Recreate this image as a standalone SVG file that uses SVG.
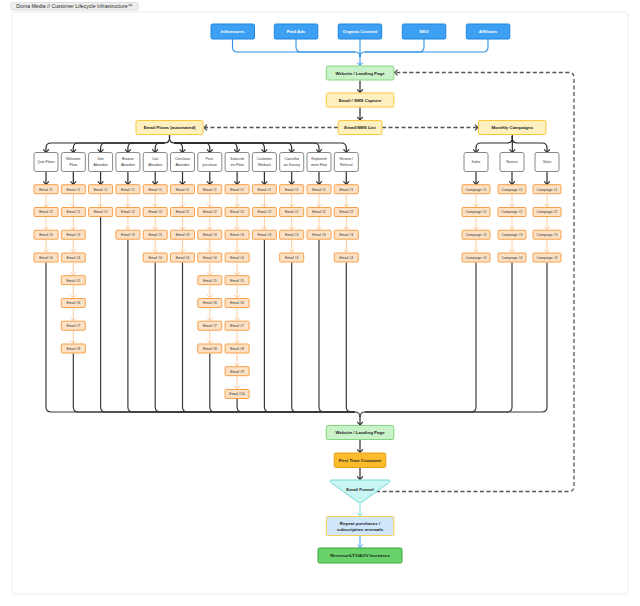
<svg xmlns="http://www.w3.org/2000/svg" width="640" height="606" viewBox="0 0 640 606">
<style>
text{font-family:"Liberation Sans",Arial,sans-serif;text-anchor:middle}
.main text{font-size:4.4px;font-weight:bold;fill:#1c1c1c}
.src rect{fill:#3ea0f2;stroke:#1d84de;stroke-width:1}
.src text{font-size:4.4px;font-weight:bold;fill:#fff}
.grn rect{fill:#caf2c8;stroke:#82d77e;stroke-width:1}
.yel rect{fill:#fff0bf;stroke:#fbc83c;stroke-width:1}
.ftc rect{fill:#fbbb2c;stroke:#e6a219;stroke-width:1}
.rep rect{fill:#cfe6fb;stroke:#f8cf52;stroke-width:1}
.rev rect{fill:#6ad26a;stroke:#3aa53a;stroke-width:1}
.fun path{fill:#c9f5f2;stroke:#70dbd5;stroke-width:1}
.flow rect{fill:#fff;stroke:#6a6a6a;stroke-width:0.8}
.flow text{font-size:3.5px;fill:#333}
.em rect{fill:#fde1c4;stroke:#f8a04a;stroke-width:1}
.em text{font-size:3.5px;fill:#333}
.blk{fill:none;stroke:#2a2a2a;stroke-width:1.2}
.mrg{fill:none;stroke:#3a3a3a;stroke-width:1.2}
.pale{fill:none;stroke:#fccca0;stroke-width:1}
.blu{fill:none;stroke:#2f8fe6;stroke-width:1.1}
.dash{fill:none;stroke:#555;stroke-width:1.3;stroke-dasharray:4 2.5}
</style>
<defs>
<marker id="ab" viewBox="0 0 4 7" refX="3.6" refY="3.5" markerWidth="4" markerHeight="7" markerUnits="userSpaceOnUse" orient="auto"><path d="M0.5,0.6 L3.5,3.5 L0.5,6.4" fill="none" stroke="#2a2a2a" stroke-width="1.1"/></marker>
<marker id="ap" viewBox="0 0 4 7" refX="3.6" refY="3.5" markerWidth="4" markerHeight="7" markerUnits="userSpaceOnUse" orient="auto"><path d="M0.5,0.6 L3.5,3.5 L0.5,6.4" fill="none" stroke="#fccca0" stroke-width="1"/></marker>
<marker id="abl" viewBox="0 0 4 7" refX="3.6" refY="3.5" markerWidth="4" markerHeight="7" markerUnits="userSpaceOnUse" orient="auto"><path d="M0.5,0.6 L3.5,3.5 L0.5,6.4" fill="none" stroke="#2f8fe6" stroke-width="1"/></marker>
<marker id="acy" viewBox="0 0 4 7" refX="3.6" refY="3.5" markerWidth="4" markerHeight="7" markerUnits="userSpaceOnUse" orient="auto"><path d="M0.5,0.6 L3.5,3.5 L0.5,6.4" fill="none" stroke="#7fdcd7" stroke-width="1"/></marker>
<marker id="ab2" viewBox="0 0 4 7" refX="3.6" refY="3.5" markerWidth="4" markerHeight="7" markerUnits="userSpaceOnUse" orient="auto"><path d="M0.5,0.6 L3.5,3.5 L0.5,6.4" fill="none" stroke="#4aa6f0" stroke-width="1"/></marker>
<marker id="ad" viewBox="0 0 4 7" refX="3.6" refY="3.5" markerWidth="4" markerHeight="7" markerUnits="userSpaceOnUse" orient="auto"><path d="M0.5,0.6 L3.5,3.5 L0.5,6.4" fill="none" stroke="#444" stroke-width="1.1"/></marker>
</defs>

<g id="title"><rect x="11" y="2.5" width="127" height="7.5" rx="1.5" fill="#eeeeee" stroke="#cfcfcf" stroke-width="0.6"/><text x="74.5" y="8.1" style="font-size:5.2px;fill:#2a2a2a">Doma Media // Customer Lifecycle Infrastructure™</text></g>
<rect id="frame" x="12" y="12" width="616" height="582" rx="4" fill="#fff" stroke="#e6e6e6" stroke-width="0.8"/>

<g id="connectors">
<path class="blu" d="M232.5 39 V47 Q232.5 52 237.5 52 H355 Q360 52 360 57"/>
<path class="blu" d="M296 39 V47 Q296 52 301 52 H355"/>
<path class="blu" d="M424 39 V47 Q424 52 419 52 H365 Q360 52 360 57"/>
<path class="blu" d="M488 39 V47 Q488 52 483 52 H365"/>
<path class="blu" d="M360 39 V65.5" marker-end="url(#abl)"/>
<path class="blk" d="M360 80.5 V92.5" marker-end="url(#ab)"/>
<path class="blk" d="M360 107.5 V120" marker-end="url(#ab)"/>
<path class="dash" d="M338 127.5 H204" marker-end="url(#ad)"/>
<path class="dash" d="M382 127.5 H478" marker-end="url(#ad)"/>
<path class="dash" d="M376 491.5 H569 Q574 491.5 574 486.5 V77.5 Q574 72.5 569 72.5 H394.5" marker-end="url(#ad)"/>
<!-- email flows branch -->
<path class="blk" d="M169.5 135 V138 Q169.5 143 164.5 143 H51 Q46 143 46 148 V152.5" marker-end="url(#ab)"/>
<path class="blk" d="M164.5 143 H78.3 Q73.3 143 73.3 148 V152.5" marker-end="url(#ab)"/>
<path class="blk" d="M164.5 143 H105.6 Q100.6 143 100.6 148 V152.5" marker-end="url(#ab)"/>
<path class="blk" d="M164.5 143 H132.9 Q127.9 143 127.9 148 V152.5" marker-end="url(#ab)"/>
<path class="blk" d="M164.5 143 H160.2 Q155.2 143 155.2 148 V152.5" marker-end="url(#ab)"/>
<path class="blk" d="M169.5 135 V138 Q169.5 143 174.5 143 H177.5 Q182.5 143 182.5 148 V152.5" marker-end="url(#ab)"/>
<path class="blk" d="M174.5 143 H204.8 Q209.8 143 209.8 148 V152.5" marker-end="url(#ab)"/>
<path class="blk" d="M174.5 143 H232.1 Q237.1 143 237.1 148 V152.5" marker-end="url(#ab)"/>
<path class="blk" d="M174.5 143 H259.4 Q264.4 143 264.4 148 V152.5" marker-end="url(#ab)"/>
<path class="blk" d="M174.5 143 H286.7 Q291.7 143 291.7 148 V152.5" marker-end="url(#ab)"/>
<path class="blk" d="M174.5 143 H314 Q319 143 319 148 V152.5" marker-end="url(#ab)"/>
<path class="blk" d="M174.5 143 H341.3 Q346.3 143 346.3 148 V152.5" marker-end="url(#ab)"/>
<!-- campaigns branch -->
<path class="blk" d="M512.3 134.5 V152.5" marker-end="url(#ab)"/>
<path class="blk" d="M512.3 136 V138 Q512.3 143 507.3 143 H481 Q476 143 476 148 V152.5" marker-end="url(#ab)"/>
<path class="blk" d="M512.3 136 V138 Q512.3 143 517.3 143 H542 Q547 143 547 148 V152.5" marker-end="url(#ab)"/>
<!-- flow box to email 1 -->
<path class="blk" d="M46 171.5 V184.5" marker-end="url(#ab)"/>
<path class="blk" d="M73.3 171.5 V184.5" marker-end="url(#ab)"/>
<path class="blk" d="M100.6 171.5 V184.5" marker-end="url(#ab)"/>
<path class="blk" d="M127.9 171.5 V184.5" marker-end="url(#ab)"/>
<path class="blk" d="M155.2 171.5 V184.5" marker-end="url(#ab)"/>
<path class="blk" d="M182.5 171.5 V184.5" marker-end="url(#ab)"/>
<path class="blk" d="M209.8 171.5 V184.5" marker-end="url(#ab)"/>
<path class="blk" d="M237.1 171.5 V184.5" marker-end="url(#ab)"/>
<path class="blk" d="M264.4 171.5 V184.5" marker-end="url(#ab)"/>
<path class="blk" d="M291.7 171.5 V184.5" marker-end="url(#ab)"/>
<path class="blk" d="M319 171.5 V184.5" marker-end="url(#ab)"/>
<path class="blk" d="M346.3 171.5 V184.5" marker-end="url(#ab)"/>
<path class="blk" d="M476 171.5 V184.5" marker-end="url(#ab)"/>
<path class="blk" d="M512 171.5 V184.5" marker-end="url(#ab)"/>
<path class="blk" d="M547 171.5 V184.5" marker-end="url(#ab)"/>
<!-- pale arrows -->
<g class="pale" marker-end="url(#ap)">
<path d="M46 194.2 V207"/><path d="M46 216.9 V229.7"/><path d="M46 239.7 V252.5"/>
<path d="M73.3 194.2 V207"/><path d="M73.3 216.9 V229.7"/><path d="M73.3 239.7 V252.5"/><path d="M73.3 262.4 V275.2"/><path d="M73.3 285.2 V298"/><path d="M73.3 307.9 V320.7"/><path d="M73.3 330.7 V343.5"/>
<path d="M100.6 194.2 V207"/>
<path d="M127.9 194.2 V207"/><path d="M127.9 216.9 V229.7"/>
<path d="M155.2 194.2 V207"/><path d="M155.2 216.9 V229.7"/><path d="M155.2 239.7 V252.5"/>
<path d="M182.5 194.2 V207"/><path d="M182.5 216.9 V229.7"/><path d="M182.5 239.7 V252.5"/>
<path d="M209.8 194.2 V207"/><path d="M209.8 216.9 V229.7"/><path d="M209.8 239.7 V252.5"/><path d="M209.8 262.4 V275.2"/><path d="M209.8 285.2 V298"/><path d="M209.8 307.9 V320.7"/><path d="M209.8 330.7 V343.5"/>
<path d="M237.1 194.2 V207"/><path d="M237.1 216.9 V229.7"/><path d="M237.1 239.7 V252.5"/><path d="M237.1 262.4 V275.2"/><path d="M237.1 285.2 V298"/><path d="M237.1 307.9 V320.7"/><path d="M237.1 330.7 V343.5"/><path d="M237.1 353.4 V366.2"/><path d="M237.1 376.2 V389"/>
<path d="M264.4 194.2 V207"/><path d="M264.4 216.9 V229.7"/>
<path d="M291.7 194.2 V207"/><path d="M291.7 216.9 V229.7"/><path d="M291.7 239.7 V252.5"/>
<path d="M319 194.2 V207"/><path d="M319 216.9 V229.7"/>
<path d="M346.3 194.2 V207"/><path d="M346.3 216.9 V229.7"/><path d="M346.3 239.7 V252.5"/>
<path d="M476 194.2 V207"/><path d="M476 216.9 V229.7"/><path d="M476 239.7 V252.5"/>
<path d="M512 194.2 V207"/><path d="M512 216.9 V229.7"/><path d="M512 239.7 V252.5"/>
<path d="M547 194.2 V207"/><path d="M547 216.9 V229.7"/><path d="M547 239.7 V252.5"/>
</g>
<!-- merge lines -->
<path class="mrg" d="M46 262.5 V407 Q46 412 51 412 H355 Q360 412 360 417"/>
<path class="mrg" d="M73.3 353.5 V407 Q73.3 412 78.3 412 H355"/>
<path class="mrg" d="M100.6 217 V407 Q100.6 412 105.6 412 H355"/>
<path class="mrg" d="M127.9 239.7 V407 Q127.9 412 132.9 412 H355"/>
<path class="mrg" d="M155.2 262.5 V407 Q155.2 412 160.2 412 H355"/>
<path class="mrg" d="M182.5 262.5 V407 Q182.5 412 187.5 412 H355"/>
<path class="mrg" d="M209.8 353.5 V407 Q209.8 412 214.8 412 H355"/>
<path class="mrg" d="M237.1 399 V407 Q237.1 412 242.1 412 H355"/>
<path class="mrg" d="M264.4 239.7 V407 Q264.4 412 269.4 412 H355"/>
<path class="mrg" d="M291.7 262.5 V407 Q291.7 412 296.7 412 H355"/>
<path class="mrg" d="M319 239.7 V407 Q319 412 324 412 H355"/>
<path class="mrg" d="M346.3 262.5 V407 Q346.3 412 351.3 412 H355"/>
<path class="mrg" d="M476 262.5 V407 Q476 412 471 412 H365 Q360 412 360 417"/>
<path class="mrg" d="M512 262.5 V407 Q512 412 507 412 H365"/>
<path class="mrg" d="M547 262.5 V407 Q547 412 542 412 H365"/>
<path class="blk" d="M360 416 V425" marker-end="url(#ab)"/>
<path class="blk" d="M360 440 V452.5" marker-end="url(#ab)"/>
<path class="blk" d="M360 467.5 V479.5" marker-end="url(#ab)"/>
<path fill="none" stroke="#7fdcd7" stroke-width="1.1" d="M360 504 V516" marker-end="url(#acy)"/>
<path fill="none" stroke="#4aa6f0" stroke-width="1.1" d="M360 536 V547.5" marker-end="url(#ab2)"/>
</g>

<g id="influencers" class="src"><rect x="211" y="24" width="43.5" height="15" rx="1.5"/><text x="232.5" y="33">Influencers</text></g>
<g id="paid-ads" class="src"><rect x="274.3" y="24" width="43.5" height="15" rx="1.5"/><text x="296" y="33">Paid Ads</text></g>
<g id="organic-content" class="src"><rect x="338.2" y="24" width="43.5" height="15" rx="1.5"/><text x="360" y="33">Organic Content</text></g>
<g id="seo" class="src"><rect x="402.3" y="24" width="43.5" height="15" rx="1.5"/><text x="424" y="33">SEO</text></g>
<g id="affiliates" class="src"><rect x="466.3" y="24" width="43.5" height="15" rx="1.5"/><text x="488" y="33">Affiliates</text></g>

<g id="website-1" class="main grn"><rect x="326.3" y="66" width="67.5" height="14" rx="1.5"/><text x="360" y="74.6">Website / Landing Page</text></g>
<g id="capture" class="main yel"><rect x="326.3" y="93" width="67.5" height="14" rx="1.5"/><text x="360" y="101.6">Email / SMS Capture</text></g>
<g id="list" class="main yel"><rect x="338.2" y="120.5" width="43.8" height="14" rx="1.5"/><text x="360" y="129.1">Email/SMS List</text></g>
<g id="email-flows" class="main yel"><rect x="136" y="120.5" width="67" height="14" rx="1.5"/><text x="169.5" y="129.1">Email Flows (automated)</text></g>
<g id="monthly-campaigns" class="main yel"><rect x="478.5" y="120.5" width="67.5" height="14" rx="1.5"/><text x="512.3" y="129.1">Monthly Campaigns</text></g>

<g id="f-quiz" class="flow"><rect x="34" y="152.5" width="24" height="19" rx="2"/><text x="46" y="163">Quiz Flows</text></g>
<g id="f-welcome" class="flow"><rect x="61.3" y="152.5" width="24" height="19" rx="2"/><text x="73.3" y="160.3">Welcome</text><text x="73.3" y="165.6">Flow</text></g>
<g id="f-site" class="flow"><rect x="88.6" y="152.5" width="24" height="19" rx="2"/><text x="100.6" y="160.3">Site</text><text x="100.6" y="165.6">Abandon</text></g>
<g id="f-browse" class="flow"><rect x="115.9" y="152.5" width="24" height="19" rx="2"/><text x="127.9" y="160.3">Browse</text><text x="127.9" y="165.6">Abandon</text></g>
<g id="f-cart" class="flow"><rect x="143.2" y="152.5" width="24" height="19" rx="2"/><text x="155.2" y="160.3">Cart</text><text x="155.2" y="165.6">Abandon</text></g>
<g id="f-checkout" class="flow"><rect x="170.5" y="152.5" width="24" height="19" rx="2"/><text x="182.5" y="160.3">Checkout</text><text x="182.5" y="165.6">Abandon</text></g>
<g id="f-post" class="flow"><rect x="197.8" y="152.5" width="24" height="19" rx="2"/><text x="209.8" y="160.3">Post-</text><text x="209.8" y="165.6">purchase</text></g>
<g id="f-subs" class="flow"><rect x="225.1" y="152.5" width="24" height="19" rx="2"/><text x="237.1" y="160.3">Subscrib</text><text x="237.1" y="165.6">ers Flow</text></g>
<g id="f-winback" class="flow"><rect x="252.4" y="152.5" width="24" height="19" rx="2"/><text x="264.4" y="160.3">Customer</text><text x="264.4" y="165.6">Winback</text></g>
<g id="f-cancel" class="flow"><rect x="279.7" y="152.5" width="24" height="19" rx="2"/><text x="291.7" y="160.3">Cancellat</text><text x="291.7" y="165.6">ion Survey</text></g>
<g id="f-replenish" class="flow"><rect x="307" y="152.5" width="24" height="19" rx="2"/><text x="319" y="160.3">Replenish</text><text x="319" y="165.6">ment Flow</text></g>
<g id="f-review" class="flow"><rect x="334.3" y="152.5" width="24" height="19" rx="2"/><text x="346.3" y="160.3">Review /</text><text x="346.3" y="165.6">Referral</text></g>
<g id="f-sales" class="flow"><rect x="464" y="152.5" width="24" height="19" rx="2"/><text x="476" y="163">Sales</text></g>
<g id="f-nurture" class="flow"><rect x="500" y="152.5" width="24" height="19" rx="2"/><text x="512" y="163">Nurture</text></g>
<g id="f-value" class="flow"><rect x="535" y="152.5" width="24" height="19" rx="2"/><text x="547" y="163">Value</text></g>

<!-- Quiz -->
<g id="quiz-1" class="em"><rect x="34" y="184.7" width="24" height="9" rx="1"/><text x="46" y="190.6">Email #1</text></g>
<g id="quiz-2" class="em"><rect x="34" y="207.5" width="24" height="9" rx="1"/><text x="46" y="213.4">Email #2</text></g>
<g id="quiz-3" class="em"><rect x="34" y="230.2" width="24" height="9" rx="1"/><text x="46" y="236.1">Email #3</text></g>
<g id="quiz-4" class="em"><rect x="34" y="253" width="24" height="9" rx="1"/><text x="46" y="258.9">Email #4</text></g>
<!-- Welcome -->
<g id="welcome-1" class="em"><rect x="61.3" y="184.7" width="24" height="9" rx="1"/><text x="73.3" y="190.6">Email #1</text></g>
<g id="welcome-2" class="em"><rect x="61.3" y="207.5" width="24" height="9" rx="1"/><text x="73.3" y="213.4">Email #2</text></g>
<g id="welcome-3" class="em"><rect x="61.3" y="230.2" width="24" height="9" rx="1"/><text x="73.3" y="236.1">Email #3</text></g>
<g id="welcome-4" class="em"><rect x="61.3" y="253" width="24" height="9" rx="1"/><text x="73.3" y="258.9">Email #4</text></g>
<g id="welcome-5" class="em"><rect x="61.3" y="275.7" width="24" height="9" rx="1"/><text x="73.3" y="281.6">Email #5</text></g>
<g id="welcome-6" class="em"><rect x="61.3" y="298.5" width="24" height="9" rx="1"/><text x="73.3" y="304.4">Email #6</text></g>
<g id="welcome-7" class="em"><rect x="61.3" y="321.2" width="24" height="9" rx="1"/><text x="73.3" y="327.1">Email #7</text></g>
<g id="welcome-8" class="em"><rect x="61.3" y="344" width="24" height="9" rx="1"/><text x="73.3" y="349.9">Email #8</text></g>
<!-- Site -->
<g id="site-1" class="em"><rect x="88.6" y="184.7" width="24" height="9" rx="1"/><text x="100.6" y="190.6">Email #1</text></g>
<g id="site-2" class="em"><rect x="88.6" y="207.5" width="24" height="9" rx="1"/><text x="100.6" y="213.4">Email #2</text></g>
<!-- Browse -->
<g id="browse-1" class="em"><rect x="115.9" y="184.7" width="24" height="9" rx="1"/><text x="127.9" y="190.6">Email #1</text></g>
<g id="browse-2" class="em"><rect x="115.9" y="207.5" width="24" height="9" rx="1"/><text x="127.9" y="213.4">Email #2</text></g>
<g id="browse-3" class="em"><rect x="115.9" y="230.2" width="24" height="9" rx="1"/><text x="127.9" y="236.1">Email #3</text></g>
<!-- Cart -->
<g id="cart-1" class="em"><rect x="143.2" y="184.7" width="24" height="9" rx="1"/><text x="155.2" y="190.6">Email #1</text></g>
<g id="cart-2" class="em"><rect x="143.2" y="207.5" width="24" height="9" rx="1"/><text x="155.2" y="213.4">Email #2</text></g>
<g id="cart-3" class="em"><rect x="143.2" y="230.2" width="24" height="9" rx="1"/><text x="155.2" y="236.1">Email #3</text></g>
<g id="cart-4" class="em"><rect x="143.2" y="253" width="24" height="9" rx="1"/><text x="155.2" y="258.9">Email #4</text></g>
<!-- Checkout -->
<g id="checkout-1" class="em"><rect x="170.5" y="184.7" width="24" height="9" rx="1"/><text x="182.5" y="190.6">Email #1</text></g>
<g id="checkout-2" class="em"><rect x="170.5" y="207.5" width="24" height="9" rx="1"/><text x="182.5" y="213.4">Email #2</text></g>
<g id="checkout-3" class="em"><rect x="170.5" y="230.2" width="24" height="9" rx="1"/><text x="182.5" y="236.1">Email #3</text></g>
<g id="checkout-4" class="em"><rect x="170.5" y="253" width="24" height="9" rx="1"/><text x="182.5" y="258.9">Email #4</text></g>
<!-- Post-purchase -->
<g id="post-1" class="em"><rect x="197.8" y="184.7" width="24" height="9" rx="1"/><text x="209.8" y="190.6">Email #1</text></g>
<g id="post-2" class="em"><rect x="197.8" y="207.5" width="24" height="9" rx="1"/><text x="209.8" y="213.4">Email #2</text></g>
<g id="post-3" class="em"><rect x="197.8" y="230.2" width="24" height="9" rx="1"/><text x="209.8" y="236.1">Email #3</text></g>
<g id="post-4" class="em"><rect x="197.8" y="253" width="24" height="9" rx="1"/><text x="209.8" y="258.9">Email #4</text></g>
<g id="post-5" class="em"><rect x="197.8" y="275.7" width="24" height="9" rx="1"/><text x="209.8" y="281.6">Email #5</text></g>
<g id="post-6" class="em"><rect x="197.8" y="298.5" width="24" height="9" rx="1"/><text x="209.8" y="304.4">Email #6</text></g>
<g id="post-7" class="em"><rect x="197.8" y="321.2" width="24" height="9" rx="1"/><text x="209.8" y="327.1">Email #7</text></g>
<g id="post-8" class="em"><rect x="197.8" y="344" width="24" height="9" rx="1"/><text x="209.8" y="349.9">Email #8</text></g>
<!-- Subscribers -->
<g id="subs-1" class="em"><rect x="225.1" y="184.7" width="24" height="9" rx="1"/><text x="237.1" y="190.6">Email #1</text></g>
<g id="subs-2" class="em"><rect x="225.1" y="207.5" width="24" height="9" rx="1"/><text x="237.1" y="213.4">Email #2</text></g>
<g id="subs-3" class="em"><rect x="225.1" y="230.2" width="24" height="9" rx="1"/><text x="237.1" y="236.1">Email #3</text></g>
<g id="subs-4" class="em"><rect x="225.1" y="253" width="24" height="9" rx="1"/><text x="237.1" y="258.9">Email #4</text></g>
<g id="subs-5" class="em"><rect x="225.1" y="275.7" width="24" height="9" rx="1"/><text x="237.1" y="281.6">Email #5</text></g>
<g id="subs-6" class="em"><rect x="225.1" y="298.5" width="24" height="9" rx="1"/><text x="237.1" y="304.4">Email #6</text></g>
<g id="subs-7" class="em"><rect x="225.1" y="321.2" width="24" height="9" rx="1"/><text x="237.1" y="327.1">Email #7</text></g>
<g id="subs-8" class="em"><rect x="225.1" y="344" width="24" height="9" rx="1"/><text x="237.1" y="349.9">Email #8</text></g>
<g id="subs-9" class="em"><rect x="225.1" y="366.7" width="24" height="9" rx="1"/><text x="237.1" y="372.6">Email #9</text></g>
<g id="subs-10" class="em"><rect x="225.1" y="389.5" width="24" height="9" rx="1"/><text x="237.1" y="395.4">Email #10</text></g>
<!-- Winback -->
<g id="winback-1" class="em"><rect x="252.4" y="184.7" width="24" height="9" rx="1"/><text x="264.4" y="190.6">Email #1</text></g>
<g id="winback-2" class="em"><rect x="252.4" y="207.5" width="24" height="9" rx="1"/><text x="264.4" y="213.4">Email #2</text></g>
<g id="winback-3" class="em"><rect x="252.4" y="230.2" width="24" height="9" rx="1"/><text x="264.4" y="236.1">Email #3</text></g>
<!-- Cancellation -->
<g id="cancel-1" class="em"><rect x="279.7" y="184.7" width="24" height="9" rx="1"/><text x="291.7" y="190.6">Email #1</text></g>
<g id="cancel-2" class="em"><rect x="279.7" y="207.5" width="24" height="9" rx="1"/><text x="291.7" y="213.4">Email #2</text></g>
<g id="cancel-3" class="em"><rect x="279.7" y="230.2" width="24" height="9" rx="1"/><text x="291.7" y="236.1">Email #3</text></g>
<g id="cancel-4" class="em"><rect x="279.7" y="253" width="24" height="9" rx="1"/><text x="291.7" y="258.9">Email #4</text></g>
<!-- Replenishment -->
<g id="replenish-1" class="em"><rect x="307" y="184.7" width="24" height="9" rx="1"/><text x="319" y="190.6">Email #1</text></g>
<g id="replenish-2" class="em"><rect x="307" y="207.5" width="24" height="9" rx="1"/><text x="319" y="213.4">Email #2</text></g>
<g id="replenish-3" class="em"><rect x="307" y="230.2" width="24" height="9" rx="1"/><text x="319" y="236.1">Email #3</text></g>
<!-- Review -->
<g id="review-1" class="em"><rect x="334.3" y="184.7" width="24" height="9" rx="1"/><text x="346.3" y="190.6">Email #1</text></g>
<g id="review-2" class="em"><rect x="334.3" y="207.5" width="24" height="9" rx="1"/><text x="346.3" y="213.4">Email #2</text></g>
<g id="review-3" class="em"><rect x="334.3" y="230.2" width="24" height="9" rx="1"/><text x="346.3" y="236.1">Email #3</text></g>
<g id="review-4" class="em"><rect x="334.3" y="253" width="24" height="9" rx="1"/><text x="346.3" y="258.9">Email #4</text></g>
<!-- Campaigns -->
<g id="sales-1" class="em"><rect x="462" y="184.7" width="28" height="9" rx="1"/><text x="476" y="190.6">Campaign #1</text></g>
<g id="sales-2" class="em"><rect x="462" y="207.5" width="28" height="9" rx="1"/><text x="476" y="213.4">Campaign #2</text></g>
<g id="sales-3" class="em"><rect x="462" y="230.2" width="28" height="9" rx="1"/><text x="476" y="236.1">Campaign #3</text></g>
<g id="sales-4" class="em"><rect x="462" y="253" width="28" height="9" rx="1"/><text x="476" y="258.9">Campaign #4</text></g>
<g id="nurture-1" class="em"><rect x="498" y="184.7" width="28" height="9" rx="1"/><text x="512" y="190.6">Campaign #1</text></g>
<g id="nurture-2" class="em"><rect x="498" y="207.5" width="28" height="9" rx="1"/><text x="512" y="213.4">Campaign #2</text></g>
<g id="nurture-3" class="em"><rect x="498" y="230.2" width="28" height="9" rx="1"/><text x="512" y="236.1">Campaign #3</text></g>
<g id="nurture-4" class="em"><rect x="498" y="253" width="28" height="9" rx="1"/><text x="512" y="258.9">Campaign #4</text></g>
<g id="value-1" class="em"><rect x="533" y="184.7" width="28" height="9" rx="1"/><text x="547" y="190.6">Campaign #1</text></g>
<g id="value-2" class="em"><rect x="533" y="207.5" width="28" height="9" rx="1"/><text x="547" y="213.4">Campaign #2</text></g>
<g id="value-3" class="em"><rect x="533" y="230.2" width="28" height="9" rx="1"/><text x="547" y="236.1">Campaign #3</text></g>
<g id="value-4" class="em"><rect x="533" y="253" width="28" height="9" rx="1"/><text x="547" y="258.9">Campaign #4</text></g>

<g id="website-2" class="main grn"><rect x="326.3" y="425.5" width="67.5" height="14" rx="1.5"/><text x="360" y="434.1">Website / Landing Page</text></g>
<g id="first-time-customer" class="main ftc"><rect x="334.2" y="453" width="51.6" height="14.5" rx="1.5"/><text x="360" y="461.8">First Time Customer</text></g>
<g id="email-funnel" class="main fun"><path d="M332 480 H388 Q391.5 480 389 482.6 L361.6 502.4 Q360 503.6 358.4 502.4 L331 482.6 Q328.5 480 332 480 Z"/><text x="360" y="490.6">Email Funnel</text></g>
<g id="repeat-purchases" class="main rep"><rect x="326.3" y="516.5" width="67.5" height="19" rx="1.5"/><text x="360" y="524.7">Repeat purchases /</text><text x="360" y="530.9">subscription renewals</text></g>
<g id="revenue" class="main rev"><rect x="318" y="548" width="84" height="15" rx="1.5"/><text x="360" y="557">Revenue/LTV/AOV Increases</text></g>
</svg>
